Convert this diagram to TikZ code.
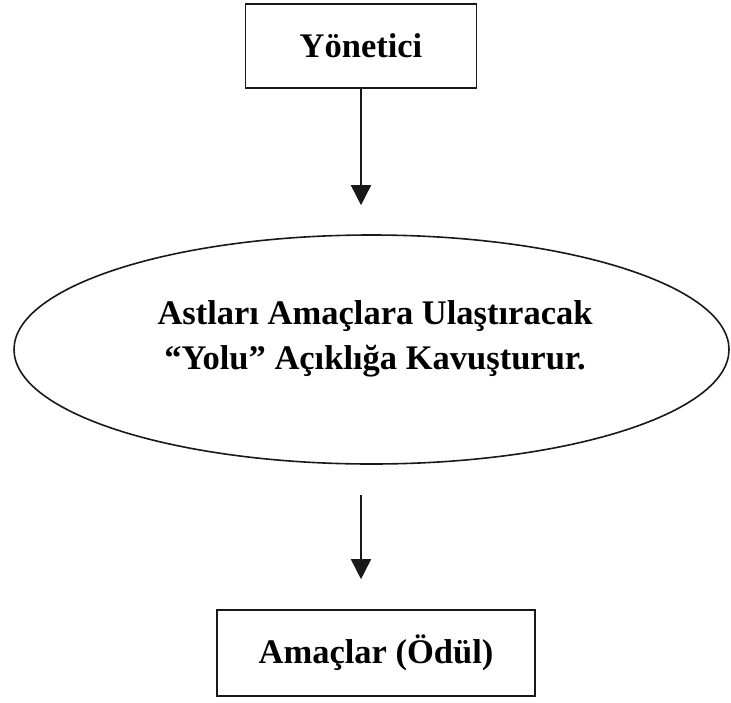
\documentclass[tikz,border=0pt]{standalone}
\usepackage{fontspec}
\setmainfont{Liberation Serif}
\usetikzlibrary{shapes.geometric,arrows.meta}
\tikzset{
  stroke/.style={draw=black!90, line width=1.6pt},
  boxnode/.style={stroke, rectangle, inner sep=0pt, font=\bfseries\fontsize{34.5}{45}\selectfont},
  ovalnode/.style={stroke, ellipse, inner sep=0pt},
  textnode/.style={align=center, inner sep=0pt, font=\bfseries\fontsize{34.5}{45}\selectfont},
  arr/.style={draw=black!90, line width=1.6pt, -{Triangle[width=20pt,length=20pt]}}
}
\begin{document}
\begin{tikzpicture}[x=1pt,y=-1pt]
  \useasboundingbox (0,0) rectangle (731,702);
  % leader, path ellipse and goal
  \node[boxnode, minimum width=231pt, minimum height=84pt] (top) at (361,46) {Yönetici};
  \node[ovalnode, minimum width=715pt, minimum height=229pt] (ell) at (371.5,349.5) {};
  \node[textnode] (elltext) at (375,339) {Astları Amaçlara Ulaştıracak\\“Yolu” Açıklığa Kavuşturur.};
  \node[boxnode, minimum width=318pt, minimum height=86pt] (bot) at (376,653) {Amaçlar (Ödül)};
  % arrows
  \draw[arr, shorten >=29pt] (top.south) -- (top.south |- ell.north);
  \coordinate (s2) at (top.south |- ell.south);
  \coordinate (e2) at (top.south |- bot.north);
  \draw[arr, shorten <=30pt, shorten >=30pt] (s2) -- (e2);
\end{tikzpicture}
\end{document}
